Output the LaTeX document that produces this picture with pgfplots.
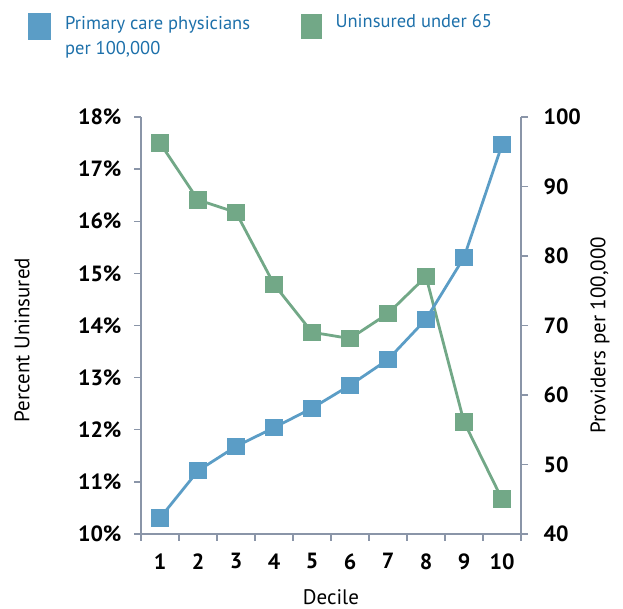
\documentclass[border=0pt]{standalone}
\usepackage{pgfplots}
\pgfplotsset{compat=1.18}
\usepackage{fontspec}
\setmainfont{PT Sans}
\definecolor{bluec}{HTML}{5B9DC6}
\definecolor{greenc}{HTML}{72A887}
\definecolor{axisc}{HTML}{8A95A8}
\definecolor{legtext}{HTML}{1D70AA}
\begin{document}
\begin{tikzpicture}
\path[use as bounding box] (0,0) rectangle (623pt,609pt);
\pgfplotsset{
  common/.style={
    at={(141pt,75pt)}, anchor=south west,
    width=380pt, height=417pt, scale only axis,
    xmin=0.5, xmax=10.5,
    axis line style={axisc, line width=1.3pt},
    tick align=outside,
    tick style={axisc, line width=1.3pt},
    major tick length=7pt, minor tick length=7pt,
    ticklabel style={font=\bfseries\fontsize{22}{24}\selectfont, text=black},
    label style={font=\fontsize{21}{24}\selectfont, text=black},
    /pgf/number format/assume math mode=true,
  }
}
\begin{axis}[common,
  axis y line*=left, axis x line*=bottom,
  ymin=10, ymax=18, ytick={10,...,18},
  yticklabel={\pgfmathprintnumber{\tick}\%},
  yticklabel style={xshift=-9pt},
  xticklabel style={yshift=-9pt},
  xtick={1,...,10}, minor xtick={0.5,1.5,...,10.5},
  major x tick style={draw=none},
  xlabel={Decile}, ylabel={Percent Uninsured},
  xlabel style={at={(axis description cs:0.5,-0.151)}, anchor=center},
  ylabel style={at={(axis description cs:-0.313,0.465)}, anchor=center},
]
\addplot[greenc, line width=2.8pt, mark=square*, mark size=7.3pt, mark options={solid}] coordinates {
(1,17.50) (2,16.41) (3,16.17) (4,14.79) (5,13.87) (6,13.75) (7,14.23) (8,14.94) (9,12.15) (10,10.67)
};
\end{axis}
\begin{axis}[common,
  axis y line*=right, axis x line=none,
  ymin=40, ymax=100, ytick={40,50,...,100},
  yticklabel style={xshift=12pt},
  ylabel={Providers per 100,000},
  ylabel style={at={(axis description cs:1.208,0.477)}, anchor=center},
  legend style={at={(axis description cs:-0.305,1.262)}, anchor=north west, draw=none, fill=none,
    legend columns=2, font=\fontsize{18.5}{25}\selectfont, text=legtext,
    /tikz/every odd column/.append style={column sep=12pt},
    /tikz/every even column/.append style={column sep=49pt},
    legend cell align=left},
  legend image code/.code={\fill (0pt,-17pt) rectangle (20pt,7pt);},
]
\addplot[bluec, line width=2.8pt, mark=square*, mark size=7.3pt, mark options={solid}] coordinates {
(1,42.3) (2,49.1) (3,52.6) (4,55.3) (5,58.1) (6,61.4) (7,65.1) (8,70.9) (9,79.8) (10,96.0)
};
\addlegendentry{\begin{tabular}[t]{@{}l@{}}Primary care physicians\\per 100,000\end{tabular}}
\addlegendimage{greenc, fill=greenc}
\addlegendentry{Uninsured under 65}
\end{axis}
\end{tikzpicture}
\end{document}
